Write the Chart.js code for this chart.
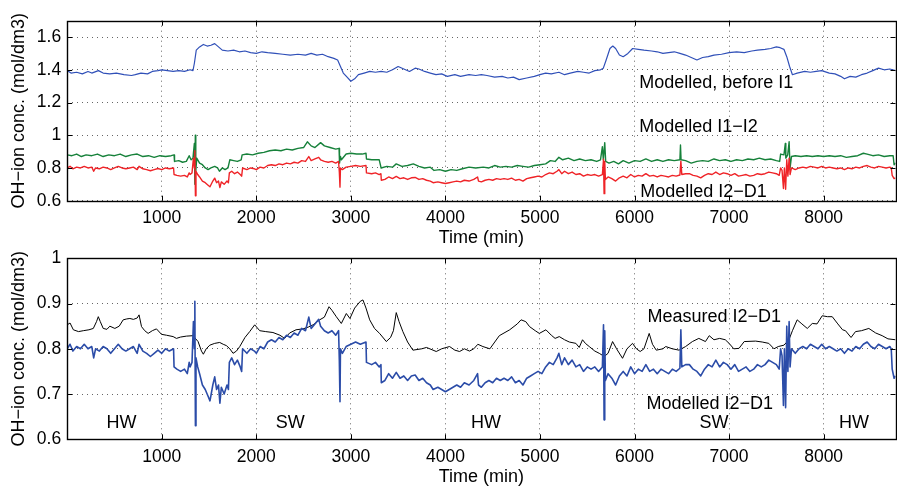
<!DOCTYPE html>
<html lang="en">
<head>
<meta charset="UTF-8">
<title>OH-ion concentration</title>
<script src="https://cdn.jsdelivr.net/npm/chart.js@4.4.0/dist/chart.umd.min.js"></script>
<style>
  body { margin: 0; background: #fff; }
  .wrap { position: relative; width: 897px; height: 491px; overflow: hidden; }
  .wrap canvas { position: absolute; left: 0; }
  #topChart { top: 0; }
  #bottomChart { top: 245px; }
</style>
</head>
<body>
<div class="wrap">
  <canvas id="topChart" width="897" height="249"></canvas>
  <canvas id="bottomChart" width="897" height="243"></canvas>
</div>
<script>
// --- data: [time (min), OH-ion conc. (mol/dm3)] ---
const timeTicks = [1000, 2000, 3000, 4000, 5000, 6000, 7000, 8000];
const topConcTicks = [0.6, 0.8, 1, 1.2, 1.4, 1.6];
const bottomConcTicks = [0.6, 0.7, 0.8, 0.9, 1];

const modelledBeforeI1 = [[0,1.395],[40,1.38],[100,1.385],[160,1.375],[220,1.39],[260,1.38],[330,1.395],[380,1.38],[450,1.375],[520,1.38],[600,1.37],[680,1.365],[720,1.37],[780,1.38],[850,1.375],[900,1.39],[960,1.395],[1000,1.40],[1060,1.395],[1120,1.39],[1180,1.395],[1240,1.39],[1300,1.40],[1330,1.395],[1345,1.44],[1365,1.52],[1400,1.54],[1440,1.555],[1480,1.545],[1520,1.55],[1560,1.56],[1600,1.54],[1640,1.52],[1700,1.515],[1760,1.52],[1820,1.51],[1880,1.515],[1940,1.505],[2000,1.50],[2060,1.51],[2120,1.505],[2200,1.50],[2280,1.495],[2360,1.49],[2440,1.495],[2520,1.49],[2580,1.50],[2640,1.49],[2700,1.495],[2760,1.48],[2820,1.47],[2860,1.46],[2890,1.42],[2920,1.38],[2960,1.355],[3000,1.33],[3040,1.345],[3080,1.37],[3140,1.38],[3200,1.39],[3260,1.385],[3320,1.39],[3380,1.385],[3440,1.40],[3500,1.42],[3560,1.405],[3620,1.39],[3680,1.41],[3720,1.405],[3780,1.39],[3840,1.38],[3900,1.37],[3960,1.375],[4020,1.36],[4100,1.37],[4160,1.36],[4250,1.37],[4320,1.365],[4380,1.37],[4440,1.365],[4520,1.355],[4600,1.36],[4660,1.35],[4720,1.355],[4780,1.34],[4860,1.35],[4940,1.36],[5000,1.37],[5060,1.38],[5120,1.375],[5200,1.385],[5260,1.37],[5320,1.38],[5400,1.39],[5460,1.385],[5520,1.38],[5580,1.395],[5640,1.40],[5670,1.41],[5700,1.46],[5740,1.53],[5770,1.545],[5800,1.53],[5840,1.49],[5880,1.48],[5930,1.50],[5980,1.53],[6040,1.525],[6100,1.52],[6180,1.515],[6240,1.51],[6300,1.50],[6360,1.505],[6420,1.51],[6480,1.50],[6540,1.49],[6600,1.475],[6660,1.46],[6720,1.475],[6780,1.48],[6840,1.49],[6920,1.495],[7000,1.505],[7080,1.51],[7160,1.505],[7240,1.515],[7300,1.52],[7380,1.525],[7440,1.53],[7500,1.54],[7540,1.535],[7580,1.525],[7610,1.48],[7640,1.42],[7670,1.37],[7720,1.38],[7800,1.39],[7860,1.385],[7920,1.39],[7980,1.395],[8060,1.38],[8120,1.375],[8180,1.36],[8220,1.345],[8280,1.36],[8340,1.355],[8400,1.37],[8460,1.38],[8520,1.395],[8580,1.41],[8640,1.40],[8700,1.405],[8760,1.395]];

const modelledI1I2 = [[0,0.88],[50,0.875],[100,0.885],[150,0.87],[200,0.88],[260,0.875],[320,0.885],[380,0.87],[440,0.88],[500,0.875],[560,0.885],[620,0.87],[680,0.88],[740,0.885],[800,0.87],[860,0.875],[920,0.865],[980,0.875],[1040,0.87],[1100,0.875],[1130,0.88],[1135,0.84],[1180,0.845],[1220,0.835],[1260,0.84],[1290,0.875],[1310,0.85],[1330,0.86],[1345,0.95],[1350,0.70],[1355,1.0],[1360,0.78],[1370,0.86],[1400,0.83],[1430,0.82],[1460,0.80],[1490,0.79],[1520,0.80],[1560,0.81],[1590,0.80],[1610,0.78],[1640,0.80],[1670,0.79],[1700,0.80],[1720,0.85],[1760,0.845],[1800,0.84],[1840,0.85],[1850,0.88],[1900,0.885],[1960,0.88],[2020,0.89],[2080,0.895],[2140,0.905],[2200,0.91],[2260,0.905],[2320,0.915],[2380,0.91],[2440,0.92],[2500,0.925],[2540,0.96],[2580,0.935],[2620,0.925],[2680,0.955],[2720,0.935],[2780,0.925],[2840,0.915],[2875,0.92],[2880,0.83],[2890,0.87],[2900,0.85],[2950,0.885],[3000,0.89],[3060,0.885],[3120,0.885],[3160,0.89],[3165,0.855],[3220,0.85],[3300,0.85],[3320,0.80],[3380,0.81],[3440,0.805],[3480,0.825],[3540,0.81],[3600,0.815],[3660,0.825],[3720,0.81],[3780,0.80],[3840,0.805],[3880,0.785],[3940,0.79],[4000,0.78],[4060,0.79],[4120,0.785],[4180,0.795],[4250,0.805],[4320,0.80],[4400,0.805],[4460,0.80],[4520,0.815],[4580,0.805],[4640,0.81],[4700,0.805],[4760,0.815],[4820,0.81],[4880,0.805],[4940,0.815],[5000,0.82],[5060,0.825],[5110,0.845],[5160,0.84],[5200,0.865],[5240,0.85],[5300,0.86],[5360,0.845],[5420,0.855],[5480,0.845],[5540,0.85],[5600,0.84],[5640,0.85],[5660,0.93],[5670,0.85],[5685,0.955],[5695,0.84],[5730,0.83],[5780,0.84],[5830,0.825],[5880,0.845],[5940,0.83],[6000,0.845],[6060,0.84],[6120,0.855],[6180,0.84],[6240,0.85],[6300,0.84],[6360,0.85],[6420,0.845],[6480,0.85],[6486,0.94],[6492,0.85],[6540,0.845],[6600,0.83],[6660,0.84],[6720,0.845],[6780,0.84],[6840,0.855],[6900,0.845],[6960,0.85],[7020,0.84],[7080,0.85],[7140,0.845],[7200,0.855],[7260,0.85],[7320,0.86],[7380,0.85],[7440,0.855],[7500,0.845],[7535,0.84],[7545,0.885],[7580,0.88],[7595,0.95],[7600,0.86],[7620,0.88],[7635,0.96],[7645,0.80],[7660,0.87],[7700,0.875],[7760,0.87],[7820,0.875],[7880,0.87],[7940,0.875],[8000,0.87],[8060,0.875],[8120,0.87],[8180,0.875],[8240,0.865],[8300,0.87],[8360,0.875],[8420,0.89],[8460,0.885],[8520,0.875],[8580,0.88],[8640,0.87],[8700,0.875],[8735,0.875],[8745,0.82],[8760,0.83]];

const modelledI2D1 = [[0,0.80],[30,0.81],[60,0.795],[100,0.805],[140,0.80],[180,0.81],[220,0.80],[260,0.805],[280,0.78],[300,0.80],[340,0.795],[380,0.805],[420,0.80],[460,0.79],[500,0.80],[540,0.81],[580,0.80],[620,0.795],[660,0.80],[700,0.805],[740,0.79],[760,0.81],[800,0.795],[840,0.79],[880,0.783],[920,0.79],[960,0.797],[1000,0.79],[1040,0.80],[1080,0.795],[1125,0.80],[1130,0.76],[1160,0.755],[1200,0.75],[1240,0.755],[1270,0.745],[1290,0.77],[1300,0.76],[1320,0.77],[1335,0.86],[1345,0.80],[1350,0.905],[1356,0.63],[1362,0.78],[1380,0.76],[1400,0.745],[1430,0.72],[1460,0.71],[1490,0.695],[1510,0.685],[1540,0.72],[1560,0.738],[1580,0.71],[1600,0.72],[1615,0.68],[1630,0.715],[1660,0.70],[1690,0.72],[1705,0.71],[1715,0.77],[1740,0.78],[1770,0.765],[1800,0.775],[1830,0.76],[1845,0.75],[1855,0.80],[1900,0.79],[1940,0.80],[1980,0.795],[2000,0.79],[2040,0.805],[2080,0.80],[2120,0.815],[2160,0.82],[2200,0.815],[2240,0.825],[2280,0.82],[2320,0.83],[2360,0.825],[2400,0.835],[2440,0.83],[2480,0.845],[2520,0.84],[2555,0.87],[2580,0.845],[2620,0.855],[2660,0.865],[2680,0.85],[2720,0.84],[2760,0.835],[2800,0.84],[2840,0.83],[2870,0.84],[2878,0.775],[2885,0.683],[2890,0.80],[2910,0.79],[2950,0.805],[3000,0.81],[3050,0.815],[3100,0.81],[3160,0.815],[3165,0.77],[3220,0.765],[3260,0.77],[3300,0.76],[3318,0.765],[3322,0.725],[3360,0.73],[3400,0.745],[3440,0.735],[3480,0.748],[3520,0.735],[3560,0.74],[3600,0.73],[3640,0.74],[3680,0.742],[3720,0.73],[3760,0.735],[3800,0.725],[3840,0.72],[3870,0.71],[3920,0.715],[3960,0.71],[4000,0.705],[4040,0.71],[4080,0.715],[4120,0.72],[4160,0.715],[4200,0.725],[4250,0.72],[4300,0.73],[4340,0.745],[4350,0.72],[4380,0.715],[4420,0.725],[4460,0.73],[4500,0.725],[4540,0.735],[4580,0.73],[4620,0.735],[4660,0.73],[4700,0.738],[4740,0.725],[4780,0.73],[4820,0.72],[4860,0.735],[4900,0.74],[4940,0.745],[4980,0.75],[5020,0.745],[5060,0.76],[5100,0.77],[5140,0.765],[5180,0.78],[5200,0.79],[5230,0.765],[5260,0.78],[5300,0.765],[5340,0.775],[5380,0.76],[5420,0.765],[5460,0.75],[5500,0.76],[5540,0.755],[5580,0.76],[5620,0.75],[5660,0.76],[5672,0.853],[5678,0.643],[5685,0.84],[5692,0.73],[5720,0.745],[5760,0.735],[5800,0.72],[5840,0.74],[5880,0.75],[5920,0.74],[5960,0.76],[6000,0.745],[6040,0.755],[6080,0.75],[6120,0.765],[6160,0.75],[6200,0.755],[6240,0.745],[6280,0.755],[6320,0.75],[6360,0.745],[6400,0.755],[6440,0.75],[6480,0.757],[6490,0.842],[6500,0.76],[6540,0.765],[6580,0.765],[6620,0.755],[6660,0.75],[6700,0.74],[6740,0.755],[6780,0.765],[6820,0.76],[6860,0.775],[6900,0.76],[6940,0.77],[6980,0.765],[7020,0.755],[7060,0.765],[7100,0.75],[7140,0.755],[7180,0.76],[7220,0.75],[7260,0.755],[7300,0.765],[7340,0.76],[7380,0.765],[7420,0.775],[7460,0.77],[7500,0.765],[7530,0.755],[7545,0.80],[7560,0.785],[7575,0.675],[7585,0.80],[7598,0.67],[7610,0.85],[7622,0.75],[7635,0.86],[7645,0.76],[7660,0.80],[7700,0.79],[7740,0.80],[7780,0.805],[7820,0.80],[7860,0.81],[7900,0.805],[7940,0.80],[7980,0.81],[8020,0.80],[8060,0.805],[8100,0.80],[8140,0.795],[8180,0.80],[8220,0.79],[8260,0.80],[8300,0.795],[8340,0.805],[8380,0.80],[8420,0.81],[8460,0.815],[8500,0.805],[8540,0.80],[8580,0.81],[8620,0.805],[8660,0.80],[8700,0.805],[8715,0.80],[8725,0.755],[8745,0.735],[8760,0.74]];

const measuredI2D1 = [[0,0.853],[30,0.857],[65,0.842],[120,0.838],[170,0.84],[230,0.842],[276,0.845],[310,0.86],[329,0.871],[350,0.86],[381,0.845],[420,0.843],[451,0.85],[504,0.845],[550,0.85],[592,0.864],[630,0.866],[663,0.867],[700,0.865],[740,0.868],[760,0.875],[786,0.849],[820,0.84],[856,0.834],[900,0.84],[944,0.844],[997,0.832],[1050,0.83],[1120,0.827],[1155,0.823],[1200,0.826],[1260,0.828],[1331,0.829],[1384,0.816],[1420,0.795],[1440,0.788],[1470,0.80],[1508,0.808],[1560,0.812],[1613,0.814],[1650,0.81],[1684,0.807],[1720,0.80],[1754,0.79],[1790,0.795],[1825,0.805],[1880,0.825],[1930,0.838],[1983,0.853],[2036,0.84],[2100,0.838],[2176,0.836],[2250,0.83],[2300,0.823],[2353,0.835],[2420,0.842],[2494,0.844],[2550,0.848],[2600,0.853],[2670,0.864],[2720,0.87],[2769,0.893],[2800,0.885],[2846,0.871],[2899,0.856],[2952,0.878],[2990,0.867],[3040,0.89],[3100,0.905],[3128,0.908],[3160,0.89],[3199,0.864],[3250,0.845],[3304,0.834],[3375,0.816],[3420,0.825],[3450,0.84],[3480,0.88],[3510,0.86],[3550,0.838],[3600,0.815],[3656,0.797],[3750,0.80],[3800,0.803],[3903,0.794],[3960,0.80],[4044,0.805],[4100,0.797],[4150,0.794],[4200,0.80],[4255,0.795],[4300,0.80],[4343,0.81],[4396,0.805],[4470,0.80],[4570,0.829],[4680,0.842],[4760,0.855],[4800,0.864],[4850,0.86],[4890,0.849],[4950,0.84],[4993,0.834],[5063,0.842],[5120,0.83],[5160,0.823],[5204,0.827],[5260,0.82],[5310,0.815],[5380,0.812],[5415,0.803],[5450,0.82],[5480,0.812],[5521,0.805],[5580,0.795],[5627,0.79],[5680,0.783],[5720,0.79],[5768,0.816],[5810,0.80],[5873,0.779],[5920,0.80],[5979,0.812],[6020,0.80],[6060,0.794],[6100,0.80],[6155,0.834],[6190,0.81],[6230,0.797],[6300,0.80],[6330,0.805],[6400,0.80],[6471,0.797],[6540,0.805],[6612,0.816],[6680,0.823],[6750,0.816],[6790,0.829],[6840,0.82],[6900,0.823],[6960,0.82],[7000,0.812],[7050,0.80],[7105,0.801],[7160,0.816],[7281,0.817],[7350,0.815],[7420,0.812],[7475,0.80],[7520,0.805],[7580,0.808],[7633,0.82],[7670,0.84],[7720,0.864],[7770,0.855],[7827,0.845],[7880,0.856],[7930,0.855],[7985,0.873],[8040,0.871],[8091,0.871],[8150,0.855],[8200,0.842],[8231,0.84],[8290,0.825],[8337,0.838],[8400,0.84],[8478,0.845],[8550,0.835],[8619,0.829],[8680,0.822],[8760,0.82]];

const FONT = "'Liberation Sans', Arial, Helvetica, sans-serif";
Chart.defaults.font.family = FONT;
Chart.defaults.color = '#000';

const toXY = pts => pts.map(([x, y]) => ({ x, y }));

// box round the plot with MATLAB style inward ticks
const framePlugin = {
    id: 'frame',
    afterDatasetsDraw(chart) {
        const { ctx, chartArea: a, scales } = chart;
        const px = v => Math.round(v) + 0.5;
        ctx.save();
        ctx.strokeStyle = '#000';
        ctx.lineWidth = 1.4;
        ctx.strokeRect(px(a.left), px(a.top), Math.round(a.right) - Math.round(a.left), Math.round(a.bottom) - Math.round(a.top));
        ctx.lineWidth = 1;
        ctx.beginPath();
        scales.x.ticks.forEach(t => {
            const x = px(scales.x.getPixelForValue(t.value));
            ctx.moveTo(x, a.bottom); ctx.lineTo(x, a.bottom - 5);
            ctx.moveTo(x, a.top); ctx.lineTo(x, a.top + 5);
        });
        scales.y.ticks.forEach(t => {
            const y = px(scales.y.getPixelForValue(t.value));
            ctx.moveTo(a.left, y); ctx.lineTo(a.left + 5, y);
            ctx.moveTo(a.right, y); ctx.lineTo(a.right - 5, y);
        });
        ctx.stroke();
        ctx.restore();
    }
};

function notesPlugin(items) {
    return {
        id: 'notes',
        afterDraw(chart) {
            const { ctx, scales } = chart;
            ctx.save();
            ctx.fillStyle = '#000';
            ctx.font = '18px ' + FONT;
            ctx.textBaseline = 'middle';
            items.forEach(n => {
                ctx.textAlign = n.align || 'left';
                ctx.fillText(n.text, scales.x.getPixelForValue(n.x), scales.y.getPixelForValue(n.y));
            });
            ctx.restore();
        }
    };
}

function makePanel(id, cfg) {
    const tickFont = { size: 17.5, family: FONT };
    const titleFont = { size: 18, family: FONT };
    return new Chart(document.getElementById(id), {
        type: 'line',
        data: { datasets: cfg.datasets },
        options: {
            responsive: false,
            animation: false,
            events: [],
            layout: { padding: { top: cfg.top, left: 0, right: 1.5, bottom: 0 } },
            elements: {
                point: { radius: 0 },
                line: { tension: 0, borderJoinStyle: 'round', fill: false }
            },
            plugins: { legend: { display: false }, tooltip: { enabled: false } },
            scales: {
                x: {
                    type: 'linear', min: 0, max: 8760,
                    afterBuildTicks: s => { s.ticks = timeTicks.map(v => ({ value: v })); },
                    afterFit: s => { s.height = cfg.xHeight; s.paddingLeft = 0; s.paddingRight = 0; },
                    ticks: { padding: 7, maxRotation: 0, autoSkip: false, font: tickFont, callback: v => String(v) },
                    grid: { color: 'rgba(0,0,0,0.6)', lineWidth: 1, drawTicks: false },
                    border: { display: false, dash: [1, 4] },
                    title: { display: true, text: 'Time (min)', font: titleFont, padding: 0 }
                },
                y: {
                    min: cfg.yMin, max: cfg.yMax,
                    afterBuildTicks: s => { s.ticks = cfg.yTicks.map(v => ({ value: v })); },
                    afterFit: s => { s.width = 67.2; s.paddingTop = 0; s.paddingBottom = 0; },
                    ticks: { padding: 6, autoSkip: false, font: tickFont, callback: v => String(v) },
                    grid: { color: 'rgba(0,0,0,0.6)', lineWidth: 1, drawTicks: false },
                    border: { display: false, dash: [1, 4] },
                    title: { display: true, text: 'OH\u2212ion conc. (mol/dm3)', font: titleFont, padding: { top: 8, bottom: 0 } }
                }
            }
        },
        plugins: [framePlugin, notesPlugin(cfg.notes)]
    });
}

makePanel('topChart', {
    top: 20.7, xHeight: 48.3, yMin: 0.6, yMax: 1.7, yTicks: topConcTicks,
    datasets: [
        { label: 'Modelled I2-D1', data: toXY(modelledI2D1), borderColor: '#ef2327', borderWidth: 1.4 },
        { label: 'Modelled I1-I2', data: toXY(modelledI1I2), borderColor: '#16813a', borderWidth: 1.4 },
        { label: 'Modelled, before I1', data: toXY(modelledBeforeI1), borderColor: '#3050b8', borderWidth: 1.2 }
    ],
    notes: [
        { text: 'Modelled, before I1', x: 6050, y: 1.318 },
        { text: 'Modelled I1\u2212I2', x: 6050, y: 1.053 },
        { text: 'Modelled I2\u2212D1', x: 6060, y: 0.655 }
    ]
});

makePanel('bottomChart', {
    top: 13.3, xHeight: 48.7, yMin: 0.6, yMax: 1, yTicks: bottomConcTicks,
    datasets: [
        { label: 'Modelled I2-D1', data: toXY(modelledI2D1), borderColor: '#2b4ca8', borderWidth: 1.6 },
        { label: 'Measured I2-D1', data: toXY(measuredI2D1), borderColor: '#000', borderWidth: 1 }
    ],
    notes: [
        { text: 'Measured I2\u2212D1', x: 6136, y: 0.870 },
        { text: 'Modelled I2\u2212D1', x: 6126, y: 0.678 },
        { text: 'HW', x: 575, y: 0.637, align: 'center' },
        { text: 'SW', x: 2360, y: 0.637, align: 'center' },
        { text: 'HW', x: 4430, y: 0.637, align: 'center' },
        { text: 'SW', x: 6840, y: 0.637, align: 'center' },
        { text: 'HW', x: 8320, y: 0.637, align: 'center' }
    ]
});
</script>
</body>
</html>
